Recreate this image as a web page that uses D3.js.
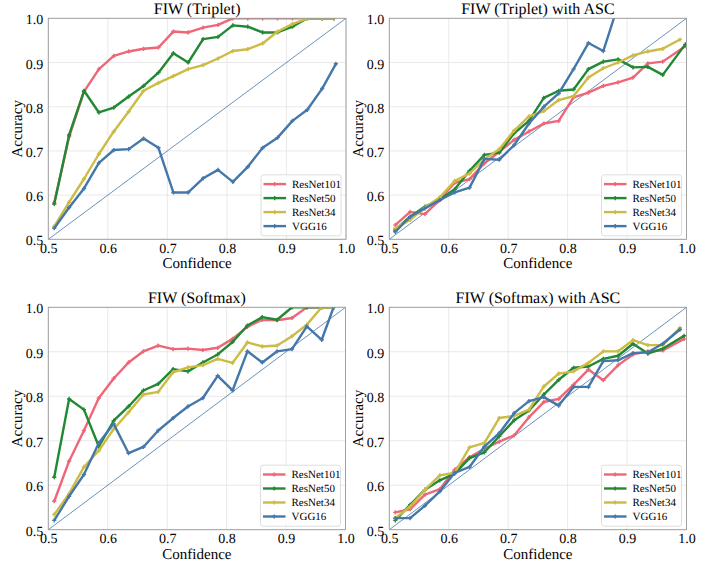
<!DOCTYPE html>
<html>
<head>
<meta charset="utf-8">
<script src="https://cdn.jsdelivr.net/npm/d3@7"></script>
<style>
	body { margin: 0; background: #fff; }
	svg text { font-family: "Liberation Serif", "Times New Roman", serif; text-rendering: geometricPrecision; fill: #000; }
</style>
</head>
<body>
<div id="chart"></div>
<script>
// DATA
const modelNames = ['ResNet101', 'ResNet50', 'ResNet34', 'VGG16'];
const modelColors = ['#ee6677', '#228833', '#ccbb44', '#4477aa'];
const panelTitles = ['FIW (Triplet)', 'FIW (Triplet) with ASC', 'FIW (Softmax)', 'FIW (Softmax) with ASC'];
const tickValues = [0.5, 0.6, 0.7, 0.8, 0.9, 1.0];

// mean confidence of the bins (the last bin differs per model)
const confBins = [0.510, 0.535, 0.560, 0.585, 0.610, 0.635, 0.660, 0.685, 0.710, 0.735,
	0.760, 0.785, 0.810, 0.835, 0.860, 0.885, 0.910, 0.935, 0.960];
const lastConfTriplet = [0.980, 0.980, 0.980, 0.983];
const lastConfTripletAsc = [0.998, 0.998, 0.989, 0.989];
const lastConfSoftmax = [0.980, 0.980, 0.980, 0.980];
const lastConfSoftmaxAsc = [0.996, 0.996, 0.989, 0.989];

const accTriplet = [
	[0.583, 0.732, 0.834, 0.885, 0.915, 0.925, 0.931, 0.934, 0.970, 0.968, 0.979, 0.985, 1.0, 1.0, 1.0, 1.0, 1.0, 1.0, 1.0, 1.0],
	[0.580, 0.736, 0.836, 0.787, 0.798, 0.823, 0.847, 0.877, 0.921, 0.900, 0.953, 0.958, 0.984, 0.981, 0.968, 0.968, 0.981, 1.0, 1.0, 1.0],
	[0.529, 0.584, 0.637, 0.693, 0.744, 0.789, 0.836, 0.854, 0.869, 0.885, 0.894, 0.909, 0.926, 0.930, 0.943, 0.970, 0.987, 1.0, 1.0, 1.0],
	[0.525, 0.572, 0.615, 0.673, 0.702, 0.704, 0.728, 0.707, 0.606, 0.606, 0.638, 0.657, 0.630, 0.664, 0.707, 0.730, 0.768, 0.793, 0.841, 0.897]
];
const accTripletAsc = [
	[0.532, 0.562, 0.557, 0.590, 0.628, 0.636, 0.672, 0.698, 0.725, 0.744, 0.762, 0.768, 0.821, 0.832, 0.847, 0.855, 0.866, 0.898, 0.902, 0.937],
	[0.521, 0.551, 0.574, 0.590, 0.613, 0.655, 0.691, 0.696, 0.740, 0.768, 0.820, 0.836, 0.839, 0.885, 0.902, 0.907, 0.889, 0.890, 0.872, 0.941],
	[0.525, 0.544, 0.572, 0.595, 0.632, 0.649, 0.681, 0.704, 0.746, 0.778, 0.790, 0.815, 0.824, 0.866, 0.887, 0.900, 0.916, 0.925, 0.931, 0.952],
	[0.517, 0.551, 0.570, 0.589, 0.606, 0.617, 0.682, 0.680, 0.713, 0.762, 0.800, 0.830, 0.885, 0.944, 0.926, 1.030]
];
const accSoftmax = [
	[0.564, 0.654, 0.723, 0.796, 0.840, 0.876, 0.901, 0.914, 0.906, 0.907, 0.904, 0.909, 0.929, 0.956, 0.972, 0.971, 0.976, 1.0, 1.0, 1.0],
	[0.618, 0.794, 0.770, 0.687, 0.745, 0.777, 0.813, 0.828, 0.861, 0.856, 0.876, 0.894, 0.922, 0.959, 0.978, 0.972, 1.0, 1.0, 1.0, 1.0],
	[0.534, 0.581, 0.641, 0.678, 0.726, 0.764, 0.804, 0.810, 0.854, 0.865, 0.870, 0.884, 0.875, 0.921, 0.912, 0.914, 0.935, 0.961, 1.0, 1.0],
	[0.521, 0.575, 0.624, 0.695, 0.738, 0.672, 0.686, 0.723, 0.751, 0.777, 0.796, 0.846, 0.813, 0.901, 0.876, 0.901, 0.906, 0.957, 0.927, 1.0]
];
const accSoftmaxAsc = [
	[0.539, 0.546, 0.579, 0.591, 0.635, 0.663, 0.682, 0.698, 0.712, 0.753, 0.787, 0.794, 0.826, 0.860, 0.836, 0.870, 0.894, 0.901, 0.903, 0.929],
	[0.521, 0.556, 0.590, 0.611, 0.626, 0.661, 0.674, 0.710, 0.746, 0.768, 0.804, 0.837, 0.864, 0.867, 0.884, 0.891, 0.918, 0.896, 0.907, 0.936],
	[0.526, 0.552, 0.590, 0.622, 0.628, 0.685, 0.695, 0.751, 0.756, 0.770, 0.822, 0.851, 0.856, 0.875, 0.901, 0.901, 0.926, 0.915, 0.915, 0.954],
	[0.526, 0.526, 0.554, 0.586, 0.628, 0.641, 0.687, 0.717, 0.762, 0.789, 0.798, 0.779, 0.821, 0.821, 0.879, 0.881, 0.897, 0.899, 0.918, 0.950]
];

// LAYOUT
const W = 716, H = 563;
const FONT = '"Liberation Serif", "Times New Roman", serif';
const boxes = [
	{ x0: 48.3, x1: 346, y0: 18.3, y1: 239.3 },
	{ x0: 389.3, x1: 686.5, y0: 18.3, y1: 239.3 },
	{ x0: 48.3, x1: 345.5, y0: 307.3, y1: 529.7 },
	{ x0: 389.3, x1: 686.5, y0: 307.3, y1: 529.7 }
];
const panelAcc = [accTriplet, accTripletAsc, accSoftmax, accSoftmaxAsc];
const panelLastConf = [lastConfTriplet, lastConfTripletAsc, lastConfSoftmax, lastConfSoftmaxAsc];

const svg = d3.select('#chart').append('svg')
	.attr('width', W)
	.attr('height', H);

function drawPanel(p) {
	const b = boxes[p];
	const x = d3.scaleLinear().domain([0.5, 1.0]).range([b.x0, b.x1]);
	const y = d3.scaleLinear().domain([0.5, 1.0]).range([b.y1, b.y0]);
	const g = svg.append('g');

	g.append('clipPath').attr('id', `clip${p}`)
		.append('rect')
		.attr('x', b.x0).attr('y', b.y0)
		.attr('width', b.x1 - b.x0).attr('height', b.y1 - b.y0);

	// grid
	g.append('g').selectAll('line.gx')
		.data(tickValues).enter().append('line')
		.attr('x1', d => x(d)).attr('x2', d => x(d))
		.attr('y1', b.y0).attr('y2', b.y1)
		.attr('stroke', '#e3e3e3').attr('stroke-width', 0.8);
	g.append('g').selectAll('line.gy')
		.data(tickValues).enter().append('line')
		.attr('y1', d => y(d)).attr('y2', d => y(d))
		.attr('x1', b.x0).attr('x2', b.x1)
		.attr('stroke', '#e3e3e3').attr('stroke-width', 0.8);

	// axes
	const fmt = d3.format('.1f');
	const ax = g.append('g')
		.attr('transform', `translate(0,${b.y1})`)
		.call(d3.axisBottom(x).tickValues(tickValues).tickFormat(fmt).tickSize(0).tickPadding(3.5));
	const ay = g.append('g')
		.attr('transform', `translate(${b.x0},0)`)
		.call(d3.axisLeft(y).tickValues(tickValues).tickFormat(fmt).tickSize(0).tickPadding(5));
	[ax, ay].forEach(a => {
		a.attr('font-family', null).attr('font-size', null);
		a.select('.domain').remove();
		a.selectAll('text')
			.style('font-family', FONT)
			.style('font-size', '14px')
			.attr('fill', '#000');
	});
	ay.selectAll('text').attr('dy', '0.4em');

	// perfect calibration diagonal
	const plot = g.append('g').attr('clip-path', `url(#clip${p})`);
	plot.append('line')
		.attr('x1', x(0.5)).attr('y1', y(0.5))
		.attr('x2', x(1.0)).attr('y2', y(1.0))
		.attr('stroke', '#4477aa').attr('stroke-width', 0.8);

	// series
	const line = d3.line().x(d => x(d[0])).y(d => y(d[1]));
	const marker = d3.symbol().type(d3.symbolCross).size(10);
	panelAcc[p].forEach((vals, s) => {
		const xs = confBins.concat([panelLastConf[p][s]]);
		const pts = vals.map((v, i) => [xs[i], v]);
		plot.append('path')
			.datum(pts)
			.attr('d', line)
			.attr('fill', 'none')
			.attr('stroke', modelColors[s])
			.attr('stroke-width', 2.4)
			.attr('stroke-linejoin', 'round');
		plot.selectAll(null)
			.data(pts).enter().append('path')
			.attr('d', marker)
			.attr('transform', d => `translate(${x(d[0])},${y(d[1])})`)
			.attr('fill', modelColors[s]);
	});

	// frame
	g.append('rect')
		.attr('x', b.x0).attr('y', b.y0)
		.attr('width', b.x1 - b.x0).attr('height', b.y1 - b.y0)
		.attr('fill', 'none').attr('stroke', '#9a9a9a').attr('stroke-width', 0.9);

	// titles and labels
	const cx = (b.x0 + b.x1) / 2, cy = (b.y0 + b.y1) / 2;
	g.append('text')
		.attr('x', cx).attr('y', b.y0 - 4.5)
		.attr('text-anchor', 'middle')
		.style('font-size', '16px')
		.text(panelTitles[p]);
	g.append('text')
		.attr('x', cx).attr('y', b.y1 + 29)
		.attr('text-anchor', 'middle')
		.style('font-size', '15px')
		.text('Confidence');
	g.append('text')
		.attr('transform', `translate(${b.x0 - 26},${cy}) rotate(-90)`)
		.attr('text-anchor', 'middle')
		.style('font-size', '15px')
		.text('Accuracy');

	// legend (lower right)
	const lw = 80, lh = 61;
	const lx = b.x1 - 5 - lw, ly = b.y1 - 3.5 - lh;
	const lg = g.append('g').attr('transform', `translate(${lx},${ly})`);
	lg.append('rect')
		.attr('width', lw).attr('height', lh)
		.attr('rx', 2.5)
		.attr('fill', 'rgba(255,255,255,0.8)')
		.attr('stroke', '#d6d6d6').attr('stroke-width', 0.8);
	modelNames.forEach((name, s) => {
		const ry = 9.3 + s * 14;
		lg.append('line')
			.attr('x1', 2.5).attr('x2', 25)
			.attr('y1', ry).attr('y2', ry)
			.attr('stroke', modelColors[s]).attr('stroke-width', 2.4);
		lg.append('path')
			.attr('d', marker)
			.attr('transform', `translate(13.7,${ry})`)
			.attr('fill', modelColors[s]);
		lg.append('text')
			.attr('x', 31).attr('y', ry + 3.8)
			.style('font-size', '11px')
			.text(name);
	});
}

for (let p = 0; p < 4; p++) drawPanel(p);
</script>
</body>
</html>
